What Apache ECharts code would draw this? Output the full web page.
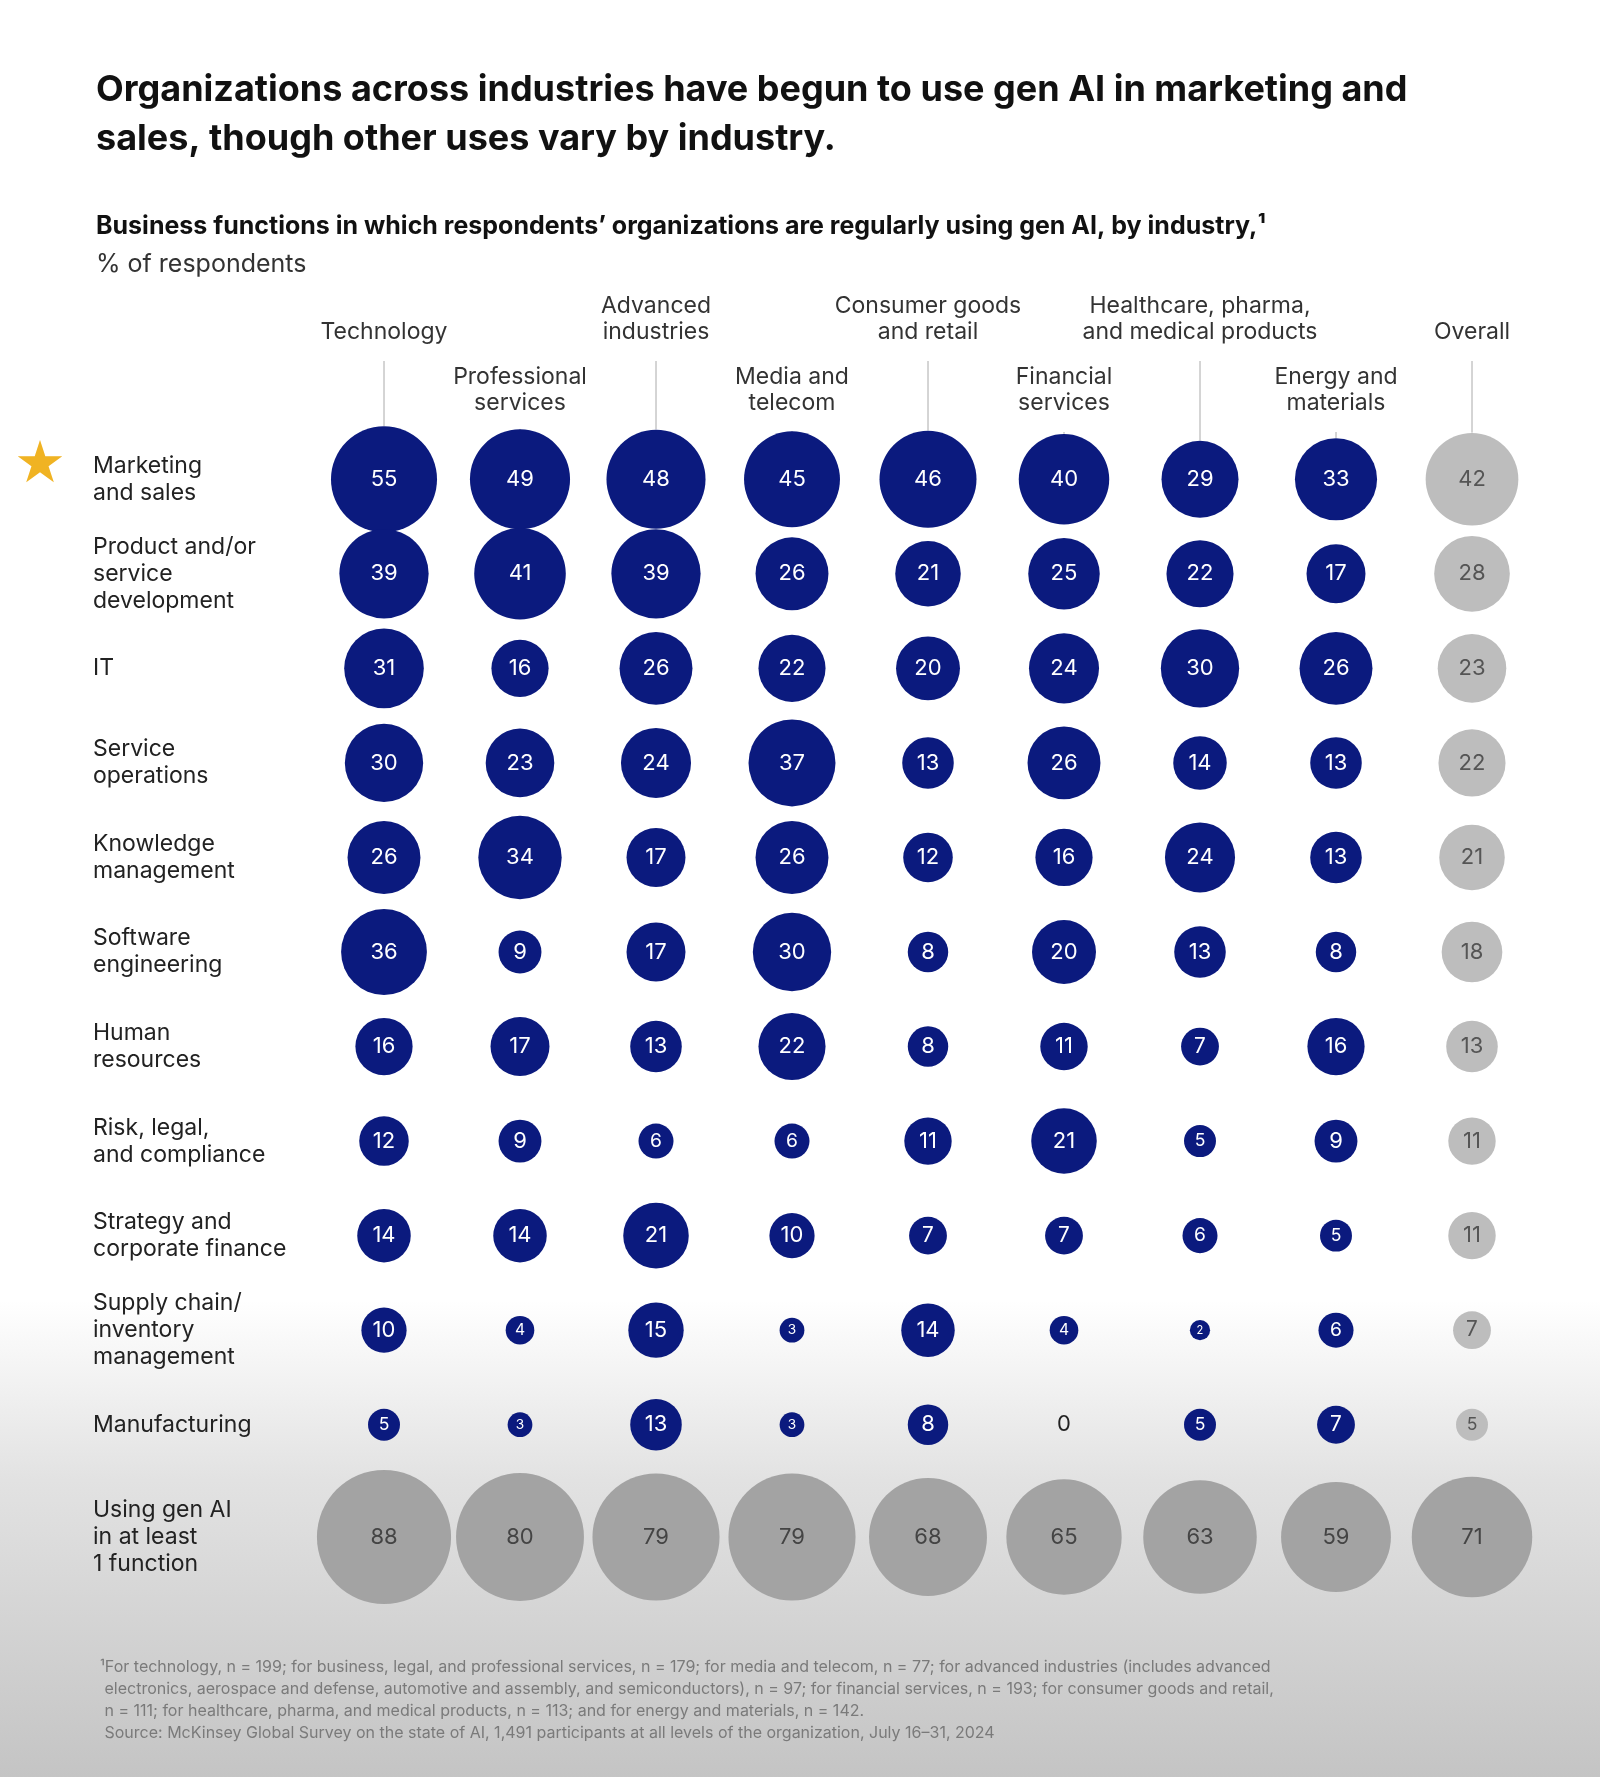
<!DOCTYPE html>
<html>
<head>
<meta charset="utf-8">
<script src="https://cdn.jsdelivr.net/npm/echarts@6/dist/echarts.min.js"></script>
<style>
  html, body { margin: 0; padding: 0; }
  body { background: linear-gradient(to bottom, #ffffff 0px, #ffffff 1300px, #e2e2e2 1480px, #c4c4c4 1777px); }
  #main { width: 1600px; height: 1777px; }
</style>
</head>
<body>
<div id="main"></div>
<script>
var industries = ['Technology', 'Professional\nservices', 'Advanced\nindustries', 'Media and\ntelecom',
    'Consumer goods\nand retail', 'Financial\nservices', 'Healthcare, pharma,\nand medical products',
    'Energy and\nmaterials', 'Overall'];
var functions = ['Marketing\nand sales', 'Product and/or\nservice\ndevelopment', 'IT', 'Service\noperations',
    'Knowledge\nmanagement', 'Software\nengineering', 'Human\nresources', 'Risk, legal,\nand compliance',
    'Strategy and\ncorporate finance', 'Supply chain/\ninventory\nmanagement', 'Manufacturing'];
// rows = functions, columns = industries (last column = Overall)
var values = [
    [55, 49, 48, 45, 46, 40, 29, 33, 42],
    [39, 41, 39, 26, 21, 25, 22, 17, 28],
    [31, 16, 26, 22, 20, 24, 30, 26, 23],
    [30, 23, 24, 37, 13, 26, 14, 13, 22],
    [26, 34, 17, 26, 12, 16, 24, 13, 21],
    [36, 9, 17, 30, 8, 20, 13, 8, 18],
    [16, 17, 13, 22, 8, 11, 7, 16, 13],
    [12, 9, 6, 6, 11, 21, 5, 9, 11],
    [14, 14, 21, 10, 7, 7, 6, 5, 11],
    [10, 4, 15, 3, 14, 4, 2, 6, 7],
    [5, 3, 13, 3, 8, 0, 5, 7, 5]
];
var atLeastOneLabel = 'Using gen AI\nin at least\n1 function';
var atLeastOne = [88, 80, 79, 79, 68, 65, 63, 59, 71];

var FONT = 'Inter, "Noto Sans", sans-serif';
function size(v) { return 14.3 * Math.sqrt(v); }

var navyData = [], overallData = [], bottomData = [];
values.forEach(function (row, r) {
    row.forEach(function (v, c) {
        (c === 8 ? overallData : navyData).push([c, r, v]);
    });
});
atLeastOne.forEach(function (v, c) { bottomData.push([c, 0, v]); });

function labelFor(color) {
    return {
        show: true, position: 'inside', fontFamily: FONT, color: color,
        formatter: function (p) { return p.data[2]; },
        fontSize: 22
    };
}

var chart = echarts.init(document.getElementById('main'));
var catX = { type: 'category', data: industries, show: false, boundaryGap: true };
var option = {
    animation: false,
    grid: [
        { left: 316, width: 1224, top: 432, height: 1040 },
        { left: 316, width: 1224, top: 1477, height: 120 }
    ],
    xAxis: [Object.assign({ gridIndex: 0 }, catX), Object.assign({ gridIndex: 1 }, catX)],
    yAxis: [
        { gridIndex: 0, type: 'category', inverse: true, data: functions,
          axisLine: { show: false }, axisTick: { show: false }, splitLine: { show: false },
          axisLabel: { inside: false, margin: 0, align: 'left', padding: [0, 0, 0, 0],
                       fontFamily: FONT, fontSize: 23, color: '#222', lineHeight: 27 },
          offset: 223 },
        { gridIndex: 1, type: 'category', data: [atLeastOneLabel],
          axisLine: { show: false }, axisTick: { show: false },
          axisLabel: { margin: 0, align: 'left', fontFamily: FONT, fontSize: 23, color: '#222', lineHeight: 27 },
          offset: 223 }
    ],
    series: [
        { type: 'scatter', xAxisIndex: 0, yAxisIndex: 0, data: navyData,
          symbolSize: function (d) { return size(d[2]); },
          itemStyle: { color: '#0b1a7e', opacity: 1 },
          label: Object.assign(labelFor('#ffffff'), {
              color: function () { return '#fff'; },
              rich: {}
          }) },
        { type: 'scatter', xAxisIndex: 0, yAxisIndex: 0, data: overallData,
          symbolSize: function (d) { return size(d[2]); },
          itemStyle: { color: '#bdbdbd', opacity: 1 },
          label: labelFor('#555') },
        { type: 'scatter', xAxisIndex: 1, yAxisIndex: 1, data: bottomData,
          symbolSize: function (d) { return size(d[2]); },
          itemStyle: { color: '#a3a3a3', opacity: 1 },
          label: labelFor('#444') }
    ]
};
// small bubbles get smaller text, zero gets dark text
option.series[0].data = navyData.map(function (d) {
    var v = d[2];
    return { value: d, label: { fontSize: v === 0 ? 22 : Math.min(22, Math.max(11, size(v) * 0.55)),
                                color: v === 0 ? '#222' : '#fff' } };
});
option.series[0].symbolSize = function (d) { return size(d[2]); };
option.series[0].label = { show: true, position: 'inside', fontFamily: FONT,
    formatter: function (p) { return p.value[2]; } };
option.series[1].data = overallData.map(function (d) {
    return { value: d, label: { fontSize: Math.min(22, Math.max(11, size(d[2]) * 0.55)) } };
});
option.series[1].label.formatter = function (p) { return p.value[2]; };
option.series[2].label.formatter = function (p) { return p.value[2]; };
chart.setOption(option);

// headers and connector lines
var g = [
    { type: 'text', left: 96, top: 66, style: { text: 'Organizations across industries have begun to use gen AI in marketing and\nsales, though other uses vary by industry.',
        font: 'bold 36px ' + FONT, fill: '#111', lineHeight: 49 } },
    { type: 'text', left: 96, top: 214, style: { text: 'Business functions in which respondents\u2019 organizations are regularly using gen AI, by industry,\u00b9',
        font: 'bold 25px ' + FONT, fill: '#111' } },
    { type: 'text', left: 96, top: 252, style: { text: '% of respondents', font: '25px ' + FONT, fill: '#333' } },
    { type: 'text', left: 14, top: 438, style: { text: '\u2605', font: '58px "DejaVu Sans"', fill: '#f0b323' } },
    { type: 'text', left: 100, top: 1656, style: {
        text: '\u00b9For technology, n = 199; for business, legal, and professional services, n = 179; for media and telecom, n = 77; for advanced industries (includes advanced\n electronics, aerospace and defense, automotive and assembly, and semiconductors), n = 97; for financial services, n = 193; for consumer goods and retail,\n n = 111; for healthcare, pharma, and medical products, n = 113; and for energy and materials, n = 142.\n Source: McKinsey Global Survey on the state of AI, 1,491 participants at all levels of the organization, July 16\u201331, 2024',
        font: '16px ' + FONT, fill: '#7a7a7a', lineHeight: 22 } }
];
industries.forEach(function (name, c) {
    var x = chart.convertToPixel({ xAxisIndex: 0 }, c);
    var top = c % 2 === 0;
    var lines = name.split('\n').length;
    var bottomY = top ? 345 : 416;
    g.push({ type: 'text', x: x, y: bottomY - lines * 26, style: { text: name, font: '23px ' + FONT,
        fill: '#333', align: 'center', verticalAlign: 'top', lineHeight: 26 } });
    var r0 = size(values[0][c]) / 2;
    g.push({ type: 'line', shape: { x1: x, y1: bottomY + 16, x2: x, y2: 479 - r0 },
        style: { stroke: '#aaa', lineWidth: 1 } });
});
chart.setOption({ graphic: g });
</script>
</body>
</html>
